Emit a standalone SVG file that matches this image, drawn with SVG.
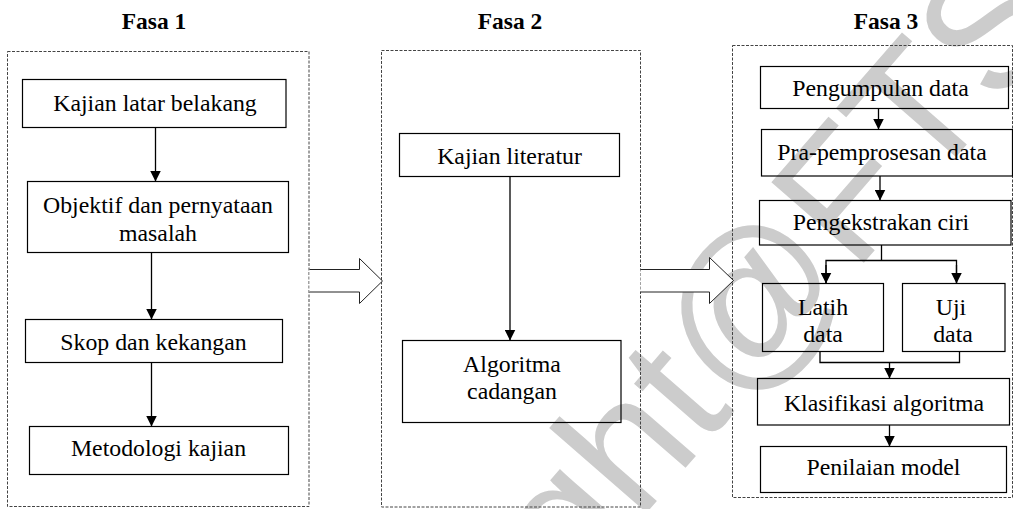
<svg xmlns="http://www.w3.org/2000/svg" width="1013" height="509" viewBox="0 0 1013 509">
<style>
.wm{font-family:"Liberation Sans",Arial,sans-serif;font-size:178px;fill:#cccccc}
.ttl{font-family:"Liberation Serif","Times New Roman",serif;font-size:23.5px;font-weight:bold;fill:#000;text-anchor:middle}
.t{font-family:"Liberation Serif","Times New Roman",serif;font-size:23.8px;fill:#000;text-anchor:middle}
.box{fill:none;stroke:#000;stroke-width:1.2}
.phase{fill:none;stroke:#444;stroke-width:1;stroke-dasharray:3 1.5}
.ln{fill:none;stroke:#000;stroke-width:1.3}
.big{fill:#fff;stroke:#222;stroke-width:1}
</style>
<defs>
<marker id="ah" viewBox="0 0 10 10" refX="10" refY="5" markerWidth="11" markerHeight="11" markerUnits="userSpaceOnUse" orient="auto">
<path d="M0,0 L10,5 L0,10 z" fill="#000"/>
</marker>
</defs>
<rect width="1013" height="509" fill="#fff"/>
<text class="wm" transform="translate(236 985) rotate(-49)">Copyright@FTSM</text>

<g id="phases">
<rect class="phase" x="7.5" y="51.5" width="301.5" height="455"/>
<rect class="phase" x="381.5" y="50.5" width="259" height="456.5"/>
<rect class="phase" x="732.5" y="45.5" width="280" height="452"/>
</g>
<g id="titles">
<text class="ttl" x="154" y="29">Fasa 1</text>
<text class="ttl" x="510" y="29">Fasa 2</text>
<text class="ttl" x="886" y="29">Fasa 3</text>
</g>

<g id="connectors">
<line class="ln" x1="155.5" y1="128" x2="155.5" y2="181.5" marker-end="url(#ah)"/>
<line class="ln" x1="151.5" y1="252.5" x2="151.5" y2="319.5" marker-end="url(#ah)"/>
<line class="ln" x1="151.5" y1="362.5" x2="151.5" y2="426.5" marker-end="url(#ah)"/>
<line class="ln" x1="510" y1="176.5" x2="510" y2="340.5" marker-end="url(#ah)"/>
<line class="ln" x1="878.5" y1="108.5" x2="878.5" y2="129.5" marker-end="url(#ah)"/>
<line class="ln" x1="880" y1="176" x2="880" y2="200.5" marker-end="url(#ah)"/>
<polyline class="ln" points="881.5,245 881.5,260.5"/>
<polyline class="ln" points="826,283.5 826,260.5 956.5,260.5 956.5,283.5"/>
<line class="ln" x1="826" y1="265" x2="826" y2="283.5" marker-end="url(#ah)"/>
<line class="ln" x1="956.5" y1="265" x2="956.5" y2="283.5" marker-end="url(#ah)"/>
<polyline class="ln" points="820,351.5 820,362.5 959.5,362.5 959.5,351.5"/>
<line class="ln" x1="889.5" y1="362.5" x2="889.5" y2="378.5" marker-end="url(#ah)"/>
<line class="ln" x1="889.5" y1="425" x2="889.5" y2="446.5" marker-end="url(#ah)"/>
<polyline class="big" points="309.5,269.5 359.5,269.5 359.5,258.5 382.5,281 359.5,303.5 359.5,292 309.5,292"/>
<polyline class="big" points="640.5,269.5 709.5,269.5 709.5,257.5 733.5,280.5 709.5,303.5 709.5,292 640.5,292"/>
</g>

<g id="n-kajian-latar">
<rect class="box" x="22.5" y="79.5" width="263.5" height="48"/>
<text class="t" x="155" y="111">Kajian latar belakang</text>
</g>
<g id="n-objektif">
<rect class="box" x="27.5" y="181.5" width="261" height="71"/>
<text class="t" x="158" y="213">Objektif dan pernyataan</text>
<text class="t" x="158" y="240.5">masalah</text>
</g>
<g id="n-skop">
<rect class="box" x="25.5" y="319.5" width="257" height="43"/>
<text class="t" x="153.5" y="349.5">Skop dan kekangan</text>
</g>
<g id="n-metodologi">
<rect class="box" x="29.5" y="426.5" width="259" height="48"/>
<text class="t" x="158.5" y="456">Metodologi kajian</text>
</g>

<g id="n-literatur">
<rect class="box" x="399.5" y="133.5" width="220" height="43"/>
<text class="t" x="509.5" y="163.5">Kajian literatur</text>
</g>
<g id="n-algoritma">
<rect class="box" x="402.5" y="340.5" width="218.5" height="82"/>
<text class="t" x="512" y="371.5">Algoritma</text>
<text class="t" x="512" y="398.5">cadangan</text>
</g>

<g id="n-pengumpulan">
<rect class="box" x="760.5" y="66.5" width="248" height="42"/>
<text class="t" x="880.5" y="96">Pengumpulan data</text>
</g>
<g id="n-pra">
<rect class="box" x="761.5" y="129.5" width="251" height="46.5"/>
<text class="t" x="882" y="159.5">Pra-pemprosesan data</text>
</g>
<g id="n-ciri">
<rect class="box" x="759.5" y="200.5" width="251.5" height="44.5"/>
<text class="t" x="881" y="230">Pengekstrakan ciri</text>
</g>
<g id="n-latih">
<rect class="box" x="762.5" y="283.5" width="121" height="68"/>
<text class="t" x="823" y="314.5">Latih</text>
<text class="t" x="823" y="341.5">data</text>
</g>
<g id="n-uji">
<rect class="box" x="902.5" y="283.5" width="102.5" height="68"/>
<text class="t" x="951" y="314.5">Uji</text>
<text class="t" x="953" y="341.5">data</text>
</g>
<g id="n-klasifikasi">
<rect class="box" x="757.5" y="378.5" width="252" height="46.5"/>
<text class="t" x="884" y="410.5">Klasifikasi algoritma</text>
</g>
<g id="n-penilaian">
<rect class="box" x="760.5" y="446.5" width="246" height="46"/>
<text class="t" x="883.5" y="475">Penilaian model</text>
</g>
</svg>
